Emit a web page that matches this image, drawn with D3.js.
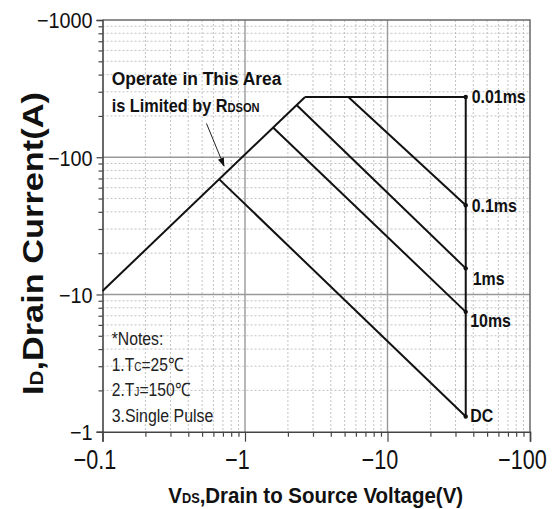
<!DOCTYPE html>
<html>
<head>
<meta charset="utf-8">
<script src="https://cdn.jsdelivr.net/npm/d3@7"></script>
<style>
  body { margin: 0; background: #fff; }
  text { font-family: "Liberation Sans", Arial, sans-serif; }
</style>
</head>
<body>
<svg id="chart" width="558" height="509"></svg>
<script>
// SOA curves: VDS (V, shown negative) vs ID (A, shown negative)
const curveNames = ["0.01ms", "0.1ms", "1ms", "10ms", "DC"];
const curveV = [
  [2.64, 35.4, 35.4],
  [5.31, 35.4],
  [2.31, 35.4],
  [1.58, 35.4],
  [0.66, 35.4],
];
const curveI = [
  [275, 275, 1.29],
  [275, 44.7],
  [239, 15.5],
  [164, 7.47],
  [69, 1.29],
];
// where each label sits on the 35V limit
const labelI = [275, 44.7, 15.5, 7.47, 1.29];

// RDS(on) limit line
const rdsonV = [0.1, 2.64];
const rdsonI = [10.6, 275];

const xTicks = [0.1, 1, 10, 100];
const yTicks = [1, 10, 100, 1000];
const notes = ["*Notes:", "1.T|C|=25℃", "2.T|J|=150℃", "3.Single Pulse"];

const svg = d3.select("#chart");
const pLeft = 102.5, pRight = 530, pTop = 20, pBottom = 431.7;

const x = d3.scaleLog().domain([0.1, 100]).range([pLeft, pRight]);
const y = d3.scaleLog().domain([1, 1000]).range([pBottom, pTop]);

const xMinor = x.ticks().filter((v) => !xTicks.some((t) => Math.abs(t - v) < 1e-9));
const yMinor = y.ticks().filter((v) => !yTicks.includes(v));

function squeeze(sel, k) {
  sel.each(function () {
    const n = this.getComputedTextLength();
    d3.select(this).attr("textLength", n * k).attr("lengthAdjust", "spacingAndGlyphs");
  });
}

// horizontal scale of a text (with tspans) to a target width
function fitWidth(t, base, w) {
  const n = t.node().getComputedTextLength();
  t.attr("transform", `${base} scale(${w / n},1)`);
}

// grid
const grid = svg.append("g");
grid.selectAll(".vmin").data(xMinor).enter().append("line")
  .attr("x1", (d) => x(d)).attr("x2", (d) => x(d))
  .attr("y1", pTop).attr("y2", pBottom)
  .attr("stroke", "#b4b4b4").attr("stroke-width", 0.8).attr("stroke-dasharray", "2,2");
grid.selectAll(".hmin").data(yMinor).enter().append("line")
  .attr("y1", (d) => y(d)).attr("y2", (d) => y(d))
  .attr("x1", pLeft).attr("x2", pRight)
  .attr("stroke", "#b4b4b4").attr("stroke-width", 0.8).attr("stroke-dasharray", "2,2");
grid.selectAll(".vmaj").data(xTicks.slice(1, -1)).enter().append("line")
  .attr("x1", (d) => x(d)).attr("x2", (d) => x(d))
  .attr("y1", pTop).attr("y2", pBottom)
  .attr("stroke", "#999").attr("stroke-width", 1.4);
grid.selectAll(".hmaj").data(yTicks.slice(1, -1)).enter().append("line")
  .attr("y1", (d) => y(d)).attr("y2", (d) => y(d))
  .attr("x1", pLeft).attr("x2", pRight)
  .attr("stroke", "#999").attr("stroke-width", 1.4);

// frame top / right
svg.append("path")
  .attr("d", `M${pLeft},${pTop}H${pRight}V${pBottom}`)
  .attr("fill", "none").attr("stroke", "#6a6a6a").attr("stroke-width", 1.5);

// axes
const fmt = (d) => "\u2212" + d;
svg.append("g").attr("transform", `translate(${pLeft},0)`)
  .call(d3.axisLeft(y).tickValues(yMinor).tickSize(4).tickFormat(""))
  .call((g) => g.select(".domain").remove());
const yAxis = svg.append("g").attr("transform", `translate(${pLeft},0)`)
  .call(d3.axisLeft(y).tickValues(yTicks).tickSize(6).tickPadding(4).tickFormat(fmt));
svg.append("g").attr("transform", `translate(0,${pBottom})`)
  .call(d3.axisBottom(x).tickValues(xMinor).tickSize(5).tickFormat(""))
  .call((g) => g.select(".domain").remove());
const xAxis = svg.append("g").attr("transform", `translate(0,${pBottom})`)
  .call(d3.axisBottom(x).tickValues(xTicks).tickSize(10).tickPadding(2).tickFormat(fmt));

svg.selectAll(".domain").attr("stroke", "#444").attr("stroke-width", 1.6);
svg.selectAll(".tick line").attr("stroke", "#444").attr("stroke-width", 1.2);

yAxis.selectAll("text")
  .attr("font-size", 22).attr("fill", "#111").attr("x", -10).attr("dy", "0.36em");
squeeze(yAxis.selectAll("text"), 0.9);
xAxis.selectAll("text")
  .attr("font-size", 27).attr("fill", "#111").attr("x", -8).attr("y", 37).attr("dy", 0);
squeeze(xAxis.selectAll("text"), 0.8);

// curves
const line = d3.line().x((d) => x(d[0])).y((d) => y(d[1]));
const curves = curveNames.map((name, i) => curveV[i].map((v, j) => [v, curveI[i][j]]));

svg.append("path")
  .datum(rdsonV.map((v, j) => [v, rdsonI[j]]))
  .attr("d", line)
  .attr("fill", "none").attr("stroke", "#111").attr("stroke-width", 2);

svg.selectAll(".curve").data(curves).enter().append("path")
  .attr("class", "curve")
  .attr("d", line)
  .attr("fill", "none").attr("stroke", "#111").attr("stroke-width", 2)
  .attr("stroke-linejoin", "round");

const vLimit = curveV[0][1];
svg.selectAll(".dot").data(labelI).enter().append("circle")
  .attr("cx", x(vLimit)).attr("cy", (d) => y(d)).attr("r", 2.2).attr("fill", "#111");

const labelDx = [6, 6, 7, 4.5, 4.5];
const labelDy = [6, 6.5, 17, 15, 5];
const labels = svg.selectAll(".lab").data(curveNames).enter().append("text")
  .attr("x", (d, i) => x(vLimit) + labelDx[i])
  .attr("y", (d, i) => y(labelI[i]) + labelDy[i])
  .attr("font-size", 18.5).attr("font-weight", "bold").attr("fill", "#111")
  .text((d) => d);
squeeze(labels, 0.86);

// RDS(on) annotation
const ann1 = svg.append("text")
  .attr("font-size", 19).attr("font-weight", "bold").attr("fill", "#111")
  .text("Operate in This Area");
fitWidth(ann1, "translate(111.7,85)", 170);
const ann2 = svg.append("text")
  .attr("font-size", 19).attr("font-weight", "bold").attr("fill", "#111");
ann2.append("tspan").text("is Limited by R");
ann2.append("tspan").attr("font-size", 13).text("DSON");
fitWidth(ann2, "translate(111.7,112)", 148);

svg.append("defs").append("marker")
  .attr("id", "arr").attr("viewBox", "0 0 10 10")
  .attr("refX", 9).attr("refY", 5)
  .attr("markerWidth", 9).attr("markerHeight", 9)
  .attr("markerUnits", "userSpaceOnUse")
  .attr("orient", "auto")
  .append("path").attr("d", "M0,1.5L10,5L0,8.5Z").attr("fill", "#111");
svg.append("line")
  .attr("x1", 206.5).attr("y1", 123.5).attr("x2", 224).attr("y2", 166)
  .attr("stroke", "#222").attr("stroke-width", 1)
  .attr("marker-end", "url(#arr)");

// notes
const noteW = [51.7, 71.3, 78.3, 101.7];
notes.forEach((n, i) => {
  const t = svg.append("text").attr("font-size", 18.5).attr("fill", "#222");
  n.split("|").forEach((part, j) => {
    const s = t.append("tspan").text(part);
    if (j === 1) s.attr("font-size", 12);
  });
  fitWidth(t, `translate(111.7,${345 + i * 25.6})`, noteW[i]);
});

// axis titles
const xt = svg.append("text")
  .attr("font-size", 22.5).attr("font-weight", "bold").attr("fill", "#111");
xt.append("tspan").text("V");
xt.append("tspan").attr("font-size", 14).text("DS");
xt.append("tspan").text(",Drain to Source Voltage(V)");
fitWidth(xt, "translate(168.3,502.5)", 295);

const yt = svg.append("text")
  .attr("font-size", 30).attr("font-weight", "bold").attr("fill", "#111");
yt.append("tspan").text("I");
yt.append("tspan").attr("font-size", 18).text("D");
yt.append("tspan").text(",Drain Current(A)");
fitWidth(yt, "translate(43,395) rotate(-90)", 303);
</script>
</body>
</html>
